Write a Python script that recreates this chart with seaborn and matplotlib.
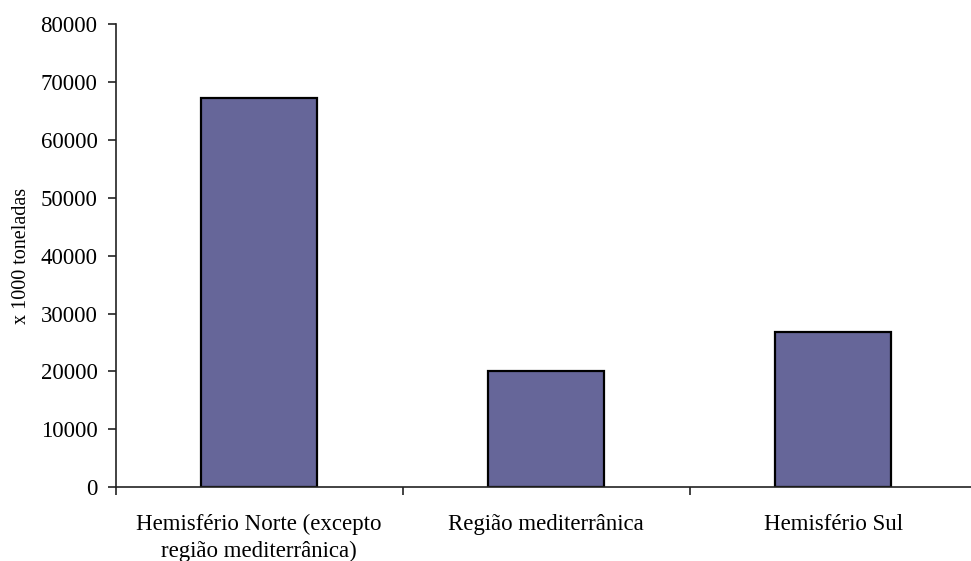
import matplotlib
matplotlib.use("Agg")
import matplotlib.pyplot as plt
import seaborn as sns
import pandas as pd

# Production by region, in thousands of tonnes
regioes = ["Hemisfério Norte (excepto\nregião mediterrânica)",
           "Região mediterrânica",
           "Hemisfério Sul"]
producao = [67200, 20100, 26900]
y_ticks = [0, 10000, 20000, 30000, 40000, 50000, 60000, 70000, 80000]

df = pd.DataFrame({"regiao": regioes, "producao": producao})

sns.set_theme(style="white")
plt.rcParams["font.family"] = ["Liberation Serif", "DejaVu Serif"]

fig = plt.figure(figsize=(9.71, 5.61), dpi=100)
ax = fig.add_axes([0.119, 0.1314, 0.887, 0.8256])

sns.barplot(data=df, x="regiao", y="producao", color="#666699",
            edgecolor="black", linewidth=1.6, width=0.405,
            saturation=1, ax=ax)

ax.set_xlim(-0.5, 2.5)
ax.set_ylim(0, 80000)
ax.set_yticks(y_ticks)
ax.set_yticklabels([str(v) for v in y_ticks], fontsize=16.5, color="black")

ax.set_xlabel("")
ax.set_ylabel("x 1000 toneladas", fontsize=14.5, labelpad=7, color="black")

# category labels sit between tick marks drawn at the category boundaries
ax.set_xticks([0, 1, 2])
ax.set_xticklabels(regioes, fontsize=16.5, linespacing=1.35, color="black")
ax.set_xticks([-0.5, 0.5, 1.5, 2.5], minor=True)
ax.tick_params(axis="x", which="major", length=0, pad=19)
ax.tick_params(axis="x", which="minor", length=6, width=1.2,
               color="#222222", direction="out", bottom=True)
ax.tick_params(axis="y", length=6, width=1.2, color="#222222",
               direction="out", left=True, pad=7)

for side in ["top", "right"]:
    ax.spines[side].set_visible(False)
for side in ["left", "bottom"]:
    ax.spines[side].set_color("#222222")
    ax.spines[side].set_linewidth(1.2)

fig.savefig("out.png", dpi=100)
